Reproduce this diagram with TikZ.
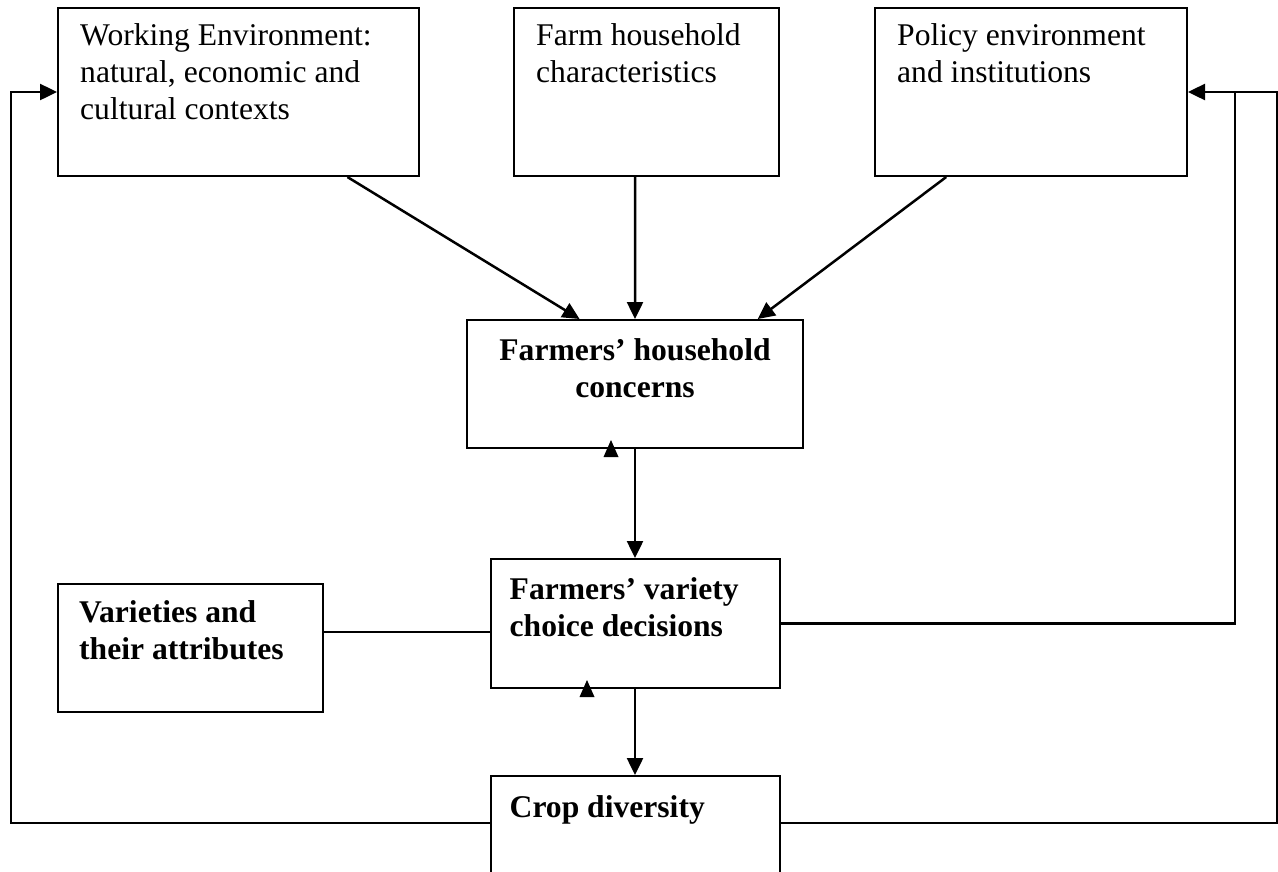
\documentclass[tikz,border=0pt]{standalone}
\usepackage{fontspec}
\setmainfont{Liberation Serif}
\usetikzlibrary{arrows.meta,calc}
\begin{document}
\begin{tikzpicture}[x=1pt,y=-1pt,
  box/.style={draw,line width=2pt,inner sep=0pt},
  txt/.style={inner sep=0pt,font=\fontsize{31.6}{37}\selectfont},
  arr/.style={line width=2.5pt,-{Triangle[length=17pt,width=16pt]}},
  fb/.style={line width=2.5pt},
  link/.style={line width=1.5pt}]
\useasboundingbox (0,0) rectangle (1278,871);
\clip (0,0) rectangle (1278,871);
% boxes
\node[box,minimum width=361pt,minimum height=168pt] (work) at (238.5,92) {};
\node[box,minimum width=265pt,minimum height=168pt] (farm) at (646.5,92) {};
\node[box,minimum width=312pt,minimum height=168pt] (pol) at (1031,92) {};
\node[box,minimum width=336pt,minimum height=128pt] (conc) at (635,384) {};
\node[box,minimum width=289pt,minimum height=129pt] (var) at (635,623.5) {};
\node[box,minimum width=265pt,minimum height=128pt] (vars) at (190.5,648) {};
\node[box,minimum width=289pt,minimum height=100pt] (crop) at (635,826) {};
% texts
\node[txt,anchor=base west] (workT) at ($(work.north west)+(23,38)$)
  {\begin{tabular}[t]{@{}l@{}}Working Environment:\\natural, economic and\\cultural contexts\end{tabular}};
\node[txt,anchor=base west] (farmT) at ($(farm.north west)+(23,38)$)
  {\begin{tabular}[t]{@{}l@{}}Farm household\\characteristics\end{tabular}};
\node[txt,anchor=base west] (polT) at ($(pol.north west)+(23,38)$)
  {\begin{tabular}[t]{@{}l@{}}Policy environment\\and institutions\end{tabular}};
\node[txt,anchor=base] (concT) at ($(conc.north)+(0,41)$)
  {\bfseries\begin{tabular}[t]{@{}c@{}}Farmers’ household\\concerns\end{tabular}};
\node[txt,anchor=base west] (varT) at ($(var.north west)+(20,41)$)
  {\bfseries\begin{tabular}[t]{@{}l@{}}Farmers’ variety\\choice decisions\end{tabular}};
\node[txt,anchor=base west] (varsT) at ($(vars.north west)+(22,39)$)
  {\bfseries\begin{tabular}[t]{@{}l@{}}Varieties and\\their attributes\end{tabular}};
\node[txt,anchor=base west] (cropT) at ($(crop.north west)+(20,42)$)
  {\bfseries Crop diversity};
% arrows into concerns
\draw[arr] ($(work.south west)!0.8!(work.south east)$) -- ($(conc.north west)!0.336!(conc.north east)$);
\draw[arr] ($(farm.south west)!0.457!(farm.south east)$) -- (conc.north);
\draw[arr] ($(pol.south west)!0.23!(pol.south east)$) -- ($(conc.north west)!0.863!(conc.north east)$);
% vertical chain
\draw[arr] (conc.south) -- (var.north);
\draw[arr] (var.south) -- (crop.north);
\fill ($(conc.south)+(-24,-9)$) -- ($(conc.south)+(-31.5,8)$) -- ($(conc.south)+(-16.5,8)$) -- cycle;
\fill ($(var.south)+(-48,-9)$) -- ($(var.south)+(-55.5,8)$) -- ($(var.south)+(-40.5,8)$) -- cycle;
% varieties link
\coordinate (vl) at ($(var.north west)!0.566!(var.south west)$);
\draw[link] (vars.east |- vl) -- (vl);
% feedback loops
\coordinate (lc) at (11,92);
\coordinate (rc) at (1277,92);
\coordinate (rj) at (1235,92);
\draw[fb] (var.east) -| (rj);
\draw[arr] ($(crop.north west)+(0,48)$) -| (lc) -- (work.west);
\draw[arr] ($(crop.north east)+(0,48)$) -| (rc) -- (pol.east);
\end{tikzpicture}
\end{document}
